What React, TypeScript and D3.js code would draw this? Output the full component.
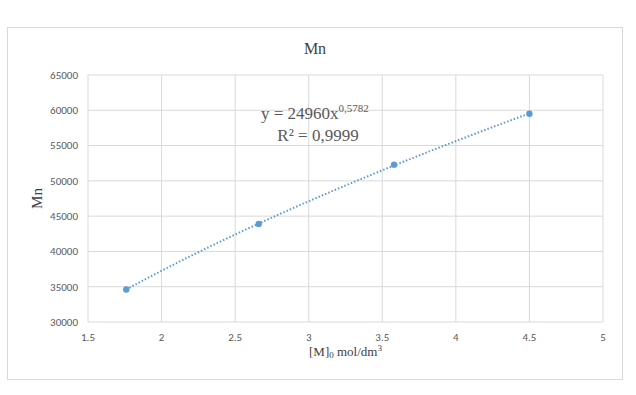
import React from "react";
import * as d3 from "d3";

// data
const concentration = [1.76, 2.66, 3.58, 4.5];
const mnValues = [34600, 43900, 52300, 59500];
const xTicks = [1.5, 2, 2.5, 3, 3.5, 4, 4.5, 5];
const yTicks = [30000, 35000, 40000, 45000, 50000, 55000, 60000, 65000];
// power trendline y = a * x^b, as printed on the chart
const trendCoef = [24960, 0.5782];

const W = 636;
const H = 395;
const plot = { left: 88, right: 603, top: 75, bottom: 322 };
const blue = "#5b9bd5";
const grid = "#d9d9d9";
const tickColor = "#595959";
const serif = "'Liberation Serif', 'Times New Roman', serif";
const sans = "Carlito, 'Liberation Sans', Arial, sans-serif";

export default function App() {
  const x = d3.scaleLinear().domain([1.5, 5]).range([plot.left, plot.right]);
  const y = d3.scaleLinear().domain([30000, 65000]).range([plot.bottom, plot.top]);

  const [a, b] = trendCoef;
  const xMin = d3.min(concentration) as number;
  const xMax = d3.max(concentration) as number;
  const trendPts: [number, number][] = d3
    .range(0, 41)
    .map((i) => xMin + ((xMax - xMin) * i) / 40)
    .map((v) => [v, a * Math.pow(v, b)]);
  const line = d3
    .line<[number, number]>()
    .x((d) => x(d[0]))
    .y((d) => y(d[1]));

  const plotMidX = (plot.left + plot.right) / 2;
  const plotMidY = (plot.top + plot.bottom) / 2;

  return (
    <svg
      width={W}
      height={H}
      style={{ position: "absolute", left: 0, top: 0, background: "#fff" }}
    >
      <rect x={7.5} y={27.5} width={615} height={352} fill="#fff" stroke={grid} />

      {/* gridlines */}
      {yTicks.map((t) => (
        <line key={"gy" + t} x1={plot.left} x2={plot.right} y1={y(t)} y2={y(t)} stroke={grid} />
      ))}
      {xTicks.map((t) => (
        <line key={"gx" + t} x1={x(t)} x2={x(t)} y1={plot.top} y2={plot.bottom} stroke={grid} />
      ))}

      {/* tick labels */}
      {yTicks.map((t) => (
        <text
          key={"ly" + t}
          x={78}
          y={y(t)}
          dy="0.35em"
          textAnchor="end"
          fontFamily={sans}
          fontSize={11}
          fill={tickColor}
        >
          {t}
        </text>
      ))}
      {xTicks.map((t) => (
        <text
          key={"lx" + t}
          x={x(t)}
          y={341}
          textAnchor="middle"
          fontFamily={sans}
          fontSize={11}
          fill={tickColor}
        >
          {t}
        </text>
      ))}

      {/* trendline */}
      <path
        d={line(trendPts) || ""}
        fill="none"
        stroke={blue}
        strokeWidth={2}
        strokeDasharray="1.5,2"
      />

      {/* points */}
      {concentration.map((c, i) => (
        <circle key={"p" + i} cx={x(c)} cy={y(mnValues[i])} r={3.2} fill={blue} />
      ))}

      {/* titles */}
      <text x={315} y={54} textAnchor="middle" fontFamily={serif} fontSize={16} fill="#404040">
        Mn
      </text>
      <text
        transform={`translate(42,${plotMidY}) rotate(-90)`}
        textAnchor="middle"
        fontFamily={serif}
        fontSize={15}
        fill="#404040"
      >
        Mn
      </text>
      <text x={plotMidX} y={356} textAnchor="middle" fontFamily={serif} fontSize={13} fill="#404040">
        [M]<tspan fontSize={9} dy={2}>0</tspan>
        <tspan dy={-2}> mol/dm</tspan>
        <tspan fontSize={9} dy={-5}>3</tspan>
      </text>

      {/* equation */}
      <text x={261} y={119} fontFamily={serif} fontSize={17} fill="#595959">
        y = 24960x<tspan fontSize={11} dy={-7}>0,5782</tspan>
      </text>
      <text x={318} y={141} textAnchor="middle" fontFamily={serif} fontSize={17} fill="#595959">
        R² = 0,9999
      </text>
    </svg>
  );
}
